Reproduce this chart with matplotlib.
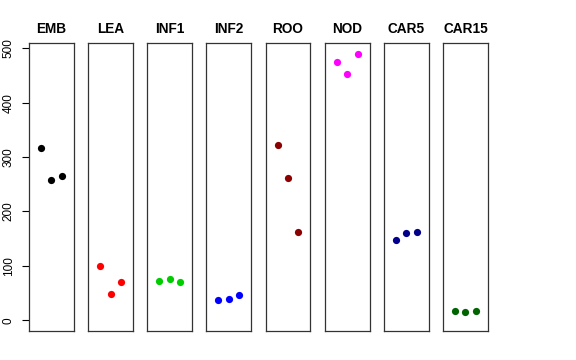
import numpy as np
import matplotlib
matplotlib.use("Agg")
import matplotlib.pyplot as plt

plt.rcParams['font.family'] = ['Liberation Sans', 'DejaVu Sans']

# tissue names and point colours
tissues = ["EMB", "LEA", "INF1", "INF2", "ROO", "NOD", "CAR5", "CAR15"]
colors = ["black", "red", "#00CD00", "blue", "#8B0000", "magenta", "#00008B", "#006400"]

# three replicates per tissue
reps = [1, 2, 3]
values = [
    [316, 257, 266],
    [100, 48, 71],
    [72, 76, 70],
    [37, 40, 46],
    [322, 261, 163],
    [475, 453, 490],
    [148, 161, 162],
    [18, 15, 17],
]
yticks = [0, 100, 200, 300, 400, 500]

W, H = 576, 360
fig = plt.figure(figsize=(W / 100, H / 100), dpi=100)

left0, step, width = 29, 59.15, 44.8
top, bottom = 43, 331

for i, (name, col, vals) in enumerate(zip(tissues, colors, values)):
    x0 = left0 + i * step
    ax = fig.add_axes([x0 / W, 1 - bottom / H, width / W, (bottom - top) / H])
    ax.plot(reps, vals, "o", color=col, markersize=5.2, markeredgewidth=0)
    ax.set_xlim(-0.16, 4.16)
    ax.set_ylim(-19.6, 509.6)
    ax.set_xticks([])
    for s in ax.spines.values():
        s.set_linewidth(0.9)
        s.set_color("#333333")
    ax.set_title(name, fontsize=9.8, fontweight="bold", pad=7)
    if i == 0:
        ax.set_yticks(yticks)
        ax.set_yticklabels([str(t) for t in yticks], rotation=90, va="center",
                           fontsize=8.5)
        ax.tick_params(axis="y", length=5.2, width=0.8, pad=5)
    else:
        ax.set_yticks([])

fig.savefig("out.png", dpi=100)
